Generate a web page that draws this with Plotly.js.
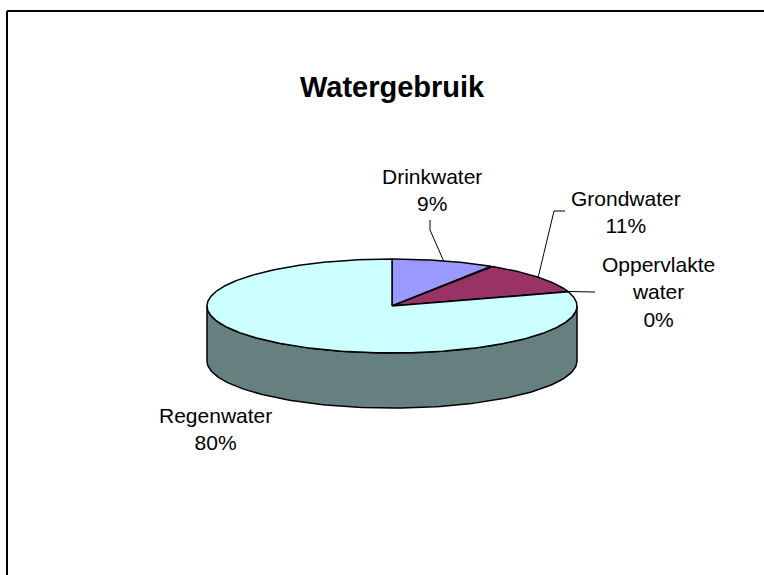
<!DOCTYPE html>
<html>
<head>
<meta charset="utf-8">
<script src="https://cdn.plot.ly/plotly-3.0.1.min.js"></script>
<style>html,body{margin:0;padding:0;background:#fff;overflow:hidden;}#chart{width:764px;height:575px;}</style>
</head>
<body>
<div id="chart"></div>
<script>
// ---- data ----
const categories = ['Drinkwater', 'Grondwater', 'Oppervlakte<br>water', 'Regenwater'];
const values = [9, 11, 0, 80];
const pctLabels = ['9%', '11%', '0%', '80%'];
const chartTitle = 'Watergebruik';

// ---- styles / geometry ----
const topColors = ['#9999FF', '#993366', '#FFFFCC', '#CCFFFF'];
const sideColors = ['#4D4D80', '#4D1A33', '#808066', '#668080'];
const cx = 392, cy = 306, rx = 185, ry = 47, depth = 55;
const labelPos = [[432, 190], [626, 212], [658, 292], [215, 429]];
const leaderStart = [[[430, 220], [430, 230]], [[565, 211], [554, 211]], [[595, 292]], null];
const font = 'Liberation Sans, Arial, sans-serif';

function pt(aDeg, dy) {
  const a = aDeg * Math.PI / 180;
  return [cx + rx * Math.sin(a), cy - ry * Math.cos(a) + (dy || 0)];
}

const total = values.reduce((s, v) => s + v, 0);
let cum = 0;
const slices = values.map(v => {
  const a0 = cum / total * 360;
  cum += v;
  return [a0, cum / total * 360];
});

const traces = [];
// sides (front visible region: 90..270 deg)
slices.forEach((s, i) => {
  const lo = Math.max(s[0], 90), hi = Math.min(s[1], 270);
  if (hi <= lo) return;
  const xs = [], ys = [];
  const n = 120;
  for (let k = 0; k <= n; k++) { const p = pt(lo + (hi - lo) * k / n, 0); xs.push(p[0]); ys.push(p[1]); }
  for (let k = n; k >= 0; k--) { const p = pt(lo + (hi - lo) * k / n, depth); xs.push(p[0]); ys.push(p[1]); }
  xs.push(xs[0]); ys.push(ys[0]);
  traces.push({x: xs, y: ys, mode: 'lines', fill: 'toself', fillcolor: sideColors[i],
    line: {color: '#000', width: 1.5}, hoverinfo: 'skip', showlegend: false});
});
// tops
slices.forEach((s, i) => {
  if (s[1] - s[0] <= 0) return;
  const xs = [cx], ys = [cy];
  const n = Math.max(8, Math.round((s[1] - s[0]) * 2));
  for (let k = 0; k <= n; k++) { const p = pt(s[0] + (s[1] - s[0]) * k / n, 0); xs.push(p[0]); ys.push(p[1]); }
  xs.push(cx); ys.push(cy);
  traces.push({x: xs, y: ys, mode: 'lines', fill: 'toself', fillcolor: topColors[i],
    line: {color: '#000', width: 1.5}, hoverinfo: 'skip', showlegend: false});
});
// leader lines
slices.forEach((s, i) => {
  if (!leaderStart[i]) return;
  const e = pt((s[0] + s[1]) / 2, 0);
  const xs = leaderStart[i].map(p => p[0]).concat([e[0]]);
  const ys = leaderStart[i].map(p => p[1]).concat([e[1]]);
  traces.push({x: xs, y: ys, mode: 'lines', line: {color: '#000', width: 1},
    hoverinfo: 'skip', showlegend: false});
});

const annotations = categories.map((c, i) => ({
  x: labelPos[i][0], y: labelPos[i][1], xref: 'x', yref: 'y',
  text: c + '<br>' + pctLabels[i], showarrow: false, align: 'center',
  xanchor: 'center', yanchor: 'middle',
  font: {family: font, size: 21, color: '#000'}
}));
annotations.push({
  x: 392, y: 87, xref: 'x', yref: 'y', text: '<b>' + chartTitle + '</b>', showarrow: false,
  xanchor: 'center', yanchor: 'middle', font: {family: font, size: 29, color: '#000'}
});

const bx = 7 / 764, by = 1 - 11 / 575;
const layout = {
  width: 764, height: 575,
  margin: {l: 0, r: 0, t: 0, b: 0},
  paper_bgcolor: '#fff', plot_bgcolor: '#fff',
  xaxis: {range: [0, 764], visible: false, fixedrange: true},
  yaxis: {range: [575, 0], visible: false, fixedrange: true},
  showlegend: false,
  annotations: annotations,
  shapes: [
    {type: 'line', xref: 'paper', yref: 'paper', x0: bx, y0: by, x1: 1, y1: by,
      line: {color: '#000', width: 2}, layer: 'above'},
    {type: 'line', xref: 'paper', yref: 'paper', x0: bx, y0: by, x1: bx, y1: 0,
      line: {color: '#000', width: 2}, layer: 'above'}
  ]
};

Plotly.newPlot('chart', traces, layout, {staticPlot: true, displayModeBar: false});
</script>
</body>
</html>
